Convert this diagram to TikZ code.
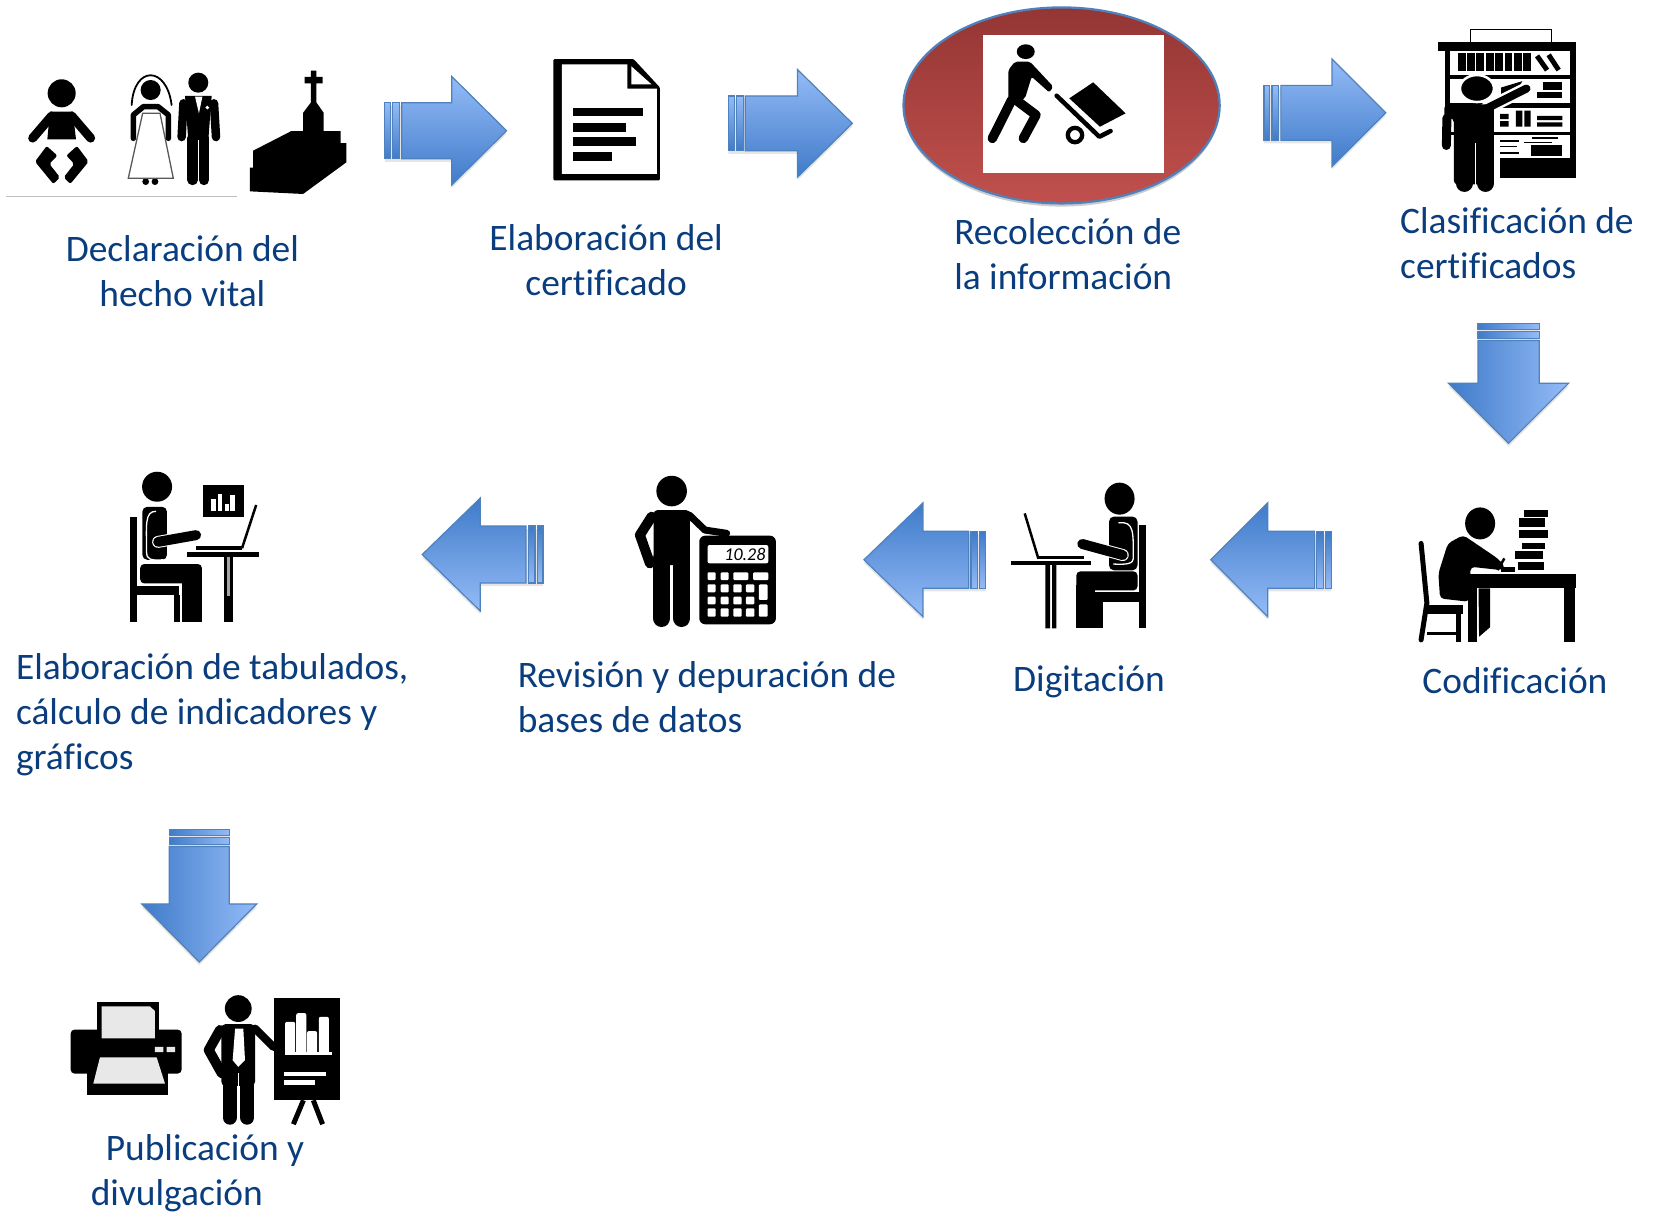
\documentclass[tikz,border=0pt]{standalone}
\usepackage{fontspec}
\setmainfont[Ligatures=NoCommon]{Carlito}
\definecolor{labelblue}{HTML}{0A3D7E}
\definecolor{arrowlight}{HTML}{94BBF7}
\definecolor{arrowdark}{HTML}{3F7BC9}
\definecolor{arrowline}{HTML}{4F81BD}
\definecolor{redtop}{HTML}{943634}
\definecolor{redbottom}{HTML}{C0504D}
\definecolor{papergray}{HTML}{E8E8E8}
\tikzset{
 step label/.style = {%
  text = labelblue,
  inner sep = 0pt,
  align = left,
  font = \fontsize{37.4}{44.8}\selectfont
 },
 center label/.style = {%
  step label,
  align = center
 },
 block/.style = {%
  fill = black,
  draw = none
 },
 limb/.style = {%
  draw = black,
  line cap = round,
  line join = round
 },
 halo/.style = {%
  draw = white,
  line cap = round,
  line join = round
 },
 arrow part/.style = {%
  draw = arrowline,
  line width = 1.2pt,
  top color = arrowlight,
  bottom color = arrowdark,
  shading angle = #1
 }
}
\begin{document}
\begin{tikzpicture}[x=1.0542pt,y=-1.0542pt]
      \useasboundingbox[fill=white] (0,0) rectangle (1568,1155);

      \foreach \tx/\ty/\ang/\len/\hlen/\hw/\sw in {365/124/0/115.5/52/51.5/26.5,691/117/0/117.5/52/51/26,1199/107/0/115.5/51/51/26,1431/307/-90/113.5/57/57/29,1263/531/180/114.5/54/54/27,935/531/180/115.5/56/54/27,515/526/180/114.5/55/53.5/27,189/787/-90/125.5/55/54.5/28.5}{
        \begin{scope}[shift={(\tx,\ty+3)},rotate=\ang]
          \fill[black,opacity=.1] (0,-\sw) -- (\len-\hlen,-\sw) -- (\len-\hlen,-\hw) -- (\len,0) -- (\len-\hlen,\hw) -- (\len-\hlen,\sw) -- (0,\sw) -- cycle;
        \end{scope}
        \begin{scope}[shift={(\tx,\ty)},rotate=\ang]
          \shadedraw[arrow part=\ang] (16,-\sw) -- (\len-\hlen,-\sw) -- (\len-\hlen,-\hw) -- (\len,0) -- (\len-\hlen,\hw) -- (\len-\hlen,\sw) -- (16,\sw) -- cycle;
          \shadedraw[arrow part=\ang] (0,-\sw) rectangle (5.5,\sw);
          \shadedraw[arrow part=\ang] (7.5,-\sw) rectangle (14,\sw);
        \end{scope}
      }

      \draw[gray!50,line width=1pt] (6,186) -- (225,186);
      \fill[block] (58.5,88.5) circle (13.3);
      \fill[block] (47.4,105.9) -- (69,105.9) -- (72.1,132.2) -- (44.9,132.2) -- cycle;
      \draw[limb,line width=9pt] (49,110) -- (31,131) (68,110) -- (86,131);
      \fill[block,rounded corners=2pt] (44.3,138.5) -- (54.4,147.6) -- (46.8,155.5) -- (56.9,168.2) -- (50.6,174.5) -- (33.2,153.3) -- cycle;
      \fill[block,rounded corners=2pt] (73,138.5) -- (62.9,147.6) -- (70.5,155.5) -- (60.4,168.2) -- (66.7,174.5) -- (84.1,153.3) -- cycle;

      \draw[limb,line width=1.8pt] (124.9,99.6) .. controls (127,62) and (158,62) .. (162.8,99.6);
      \fill[block] (142.9,85.4) circle (9.5);
      \fill[block] (138.2,172.3) circle (3.2) (147,172.3) circle (3.2);
      \draw[gray!70!black,fill=white,line width=1.3pt] (135.3,107.5) -- (121.7,169.1) -- (164.4,169.1) -- (151.8,107.5) -- cycle;
      \draw[limb,line width=5.5pt] (126.5,131.2) -- (126.5,109) -- (136,101.2) -- (150,101.2) -- (159.7,109) -- (159.7,131.2);

      \fill[block] (188.1,78.4) circle (9.5);
      \fill[block] (175.5,91) -- (200.8,91) -- (197.6,132.8) -- (178.6,132.8) -- cycle;
      \draw[limb,line width=8.5pt] (174,98) -- (172.3,130) (203,98) -- (204.9,130);
      \draw[limb,line width=10.5pt] (182.7,131) -- (182.7,170.7) (193.5,131) -- (193.5,170.7);
      \fill[white] (185,91.7) -- (192,91.7) -- (188.7,107.5) -- cycle;
      \fill[white] (196.7,102) circle (1.8);

      \fill[block] (237,181.5) -- (237,159) -- (240,159) -- (240,143) -- (276,124.5) -- (287.5,124.5) -- (287.5,107) -- (295,97) -- (295,79) -- (289,79) -- (289,73) -- (295,73) -- (295,67) -- (300,67) -- (300,73) -- (306,73) -- (306,79) -- (300,79) -- (300,97) -- (307,107) -- (307,124.5) -- (323,124.5) -- (323,135.7) -- (328.5,135.7) -- (328.5,154) -- (287.5,184) -- cycle;

      \fill[block,rounded corners=1pt] (525,56) -- (601,56) -- (626,83) -- (626,171) -- (525,171) -- cycle;
      \fill[white] (533,61) -- (595,61) -- (595,84) -- (623,84) -- (623,165) -- (533,165) -- cycle;
      \fill[white] (599,63) -- (618,80) -- (599,80) -- cycle;
      \foreach \barend/\bartop in {609.5/102,593.4/116.5,603/130,580.4/144.6}{
        \fill[block] (544,\bartop) rectangle (\barend,\bartop+8.5);
      }

      \fill[black,opacity=.2] (1007,103) circle [x radius=158.1pt,y radius=98pt];
      \shadedraw[draw=arrowline,line width=2.2pt,top color=redtop,bottom color=redbottom] (1007,100) circle [x radius=158.1pt,y radius=98pt];
      \fill[white] (932,33) rectangle (1104,164);
      \fill[block] (973,49) circle [x radius=9pt,y radius=7.4pt];
      \fill[block,rounded corners=2pt] (956.5,66.4) -- (962.8,58.5) -- (977,58.5) -- (999.1,82.2) -- (995.3,87.6) -- (978.6,72.8) -- (972.3,93.3) -- (956.5,101) -- cycle;
      \draw[limb,line width=9.5pt] (959.6,94.9) -- (941.3,131.3) (965.9,96.5) -- (982.7,109.1) -- (970.7,131.3);
      \draw[limb,line width=4.5pt] (1002.3,90.8) -- (1042.8,129.7) -- (1053.5,124.3);
      \draw[black,line width=4.3pt] (1019.7,128.1) circle (6.8);
      \fill[block] (1037,78.1) -- (1067.7,107.5) -- (1043.4,120.2) -- (1014.3,93.3) -- cycle;

      \draw[black,fill=white,line width=1.3pt] (1394.7,28) rectangle (1471.6,42.7);
      \fill[block] (1364,39.6) rectangle (1495,48);
      \fill[block] (1370.4,48) rectangle (1375,102);
      \fill[block] (1489.6,48) rectangle (1495,169);
      \fill[block] (1423,150) rectangle (1495,169);
      \foreach \shelf/\shelfb in {71/75,98/102,125/128}{
        \fill[block] (1375,\shelf) rectangle (1490,\shelfb);
      }
      \foreach \book in {0,...,7}{
        \fill[block] (1382.7+\book*8.9,50.6) rectangle (1390.2+\book*8.9,67);
      }
      \draw[black,line width=5pt] (1458,53) -- (1467.5,66.5) (1469,52) -- (1478.5,66.5);
      \fill[block] (1464,77.5) rectangle (1482,85.4);
      \fill[block] (1458,87) rectangle (1482,93);
      \fill[block] (1424,83) -- (1444,77) -- (1436,92) -- (1424,92) -- cycle;
      \fill[block] (1423,108) rectangle (1431,113) (1423,115) rectangle (1431,120);
      \fill[block] (1438,105) rectangle (1444,120) (1446,105) rectangle (1452,120);
      \fill[block] (1458,110) rectangle (1482,114) (1458,116) rectangle (1482,120);
      \foreach \thin/\thinend in {134/1441,139/1439,145/1441}{
        \draw[black,line width=1.6pt] (1423,\thin) -- (\thinend,\thin);
      }
      \draw[black,line width=1.6pt] (1453,131) -- (1478,131) (1446,135) -- (1472,135);
      \fill[block] (1452,138) rectangle (1482,148);
      \draw[halo,line width=13pt] (1410,103) -- (1448,84);
      \draw[white,fill=black,line width=2.5pt] (1401,84) circle [x radius=17pt,y radius=13.5pt];
      \draw[limb,line width=8pt] (1410,103) -- (1448,84);
      \fill[block,rounded corners=4pt] (1370,99) -- (1417,99) -- (1417,175) -- (1379,175) -- (1379,112) -- (1370,112) -- cycle;
      \draw[limb,line width=9pt] (1372.5,112) -- (1372,138);
      \draw[limb,line width=17pt] (1389,170) -- (1389,174) (1409,170) -- (1409,174);
      \draw[white,line width=1.6pt] (1399.5,136) -- (1399.5,183);

      \fill[block] (1404,496.5) circle [x radius=15pt,y radius=16pt];
      \fill[block,rounded corners=4pt] (1364.4,544) -- (1373.4,515.5) -- (1388,507.6) -- (1420.6,529.7) -- (1428,537.6) -- (1424,540.8) -- (1395,537.6) -- (1393.4,570.8) -- (1366,567.7) -- cycle;
      \draw[limb,line width=5pt] (1348,515.5) -- (1353.5,572) -- (1348,607);
      \fill[block] (1351.6,574) rectangle (1388,582.5);
      \fill[block] (1353.5,599.3) rectangle (1384.4,602.5);
      \fill[block] (1381,582) rectangle (1386,609);
      \fill[block] (1389.8,544.6) rectangle (1495,558);
      \fill[block] (1392.3,558) rectangle (1400.7,609);
      \fill[block] (1484,558) rectangle (1494.4,609);
      \fill[block] (1402.5,558) -- (1413.4,558) -- (1413.4,595) -- (1403,604) -- cycle;
      \foreach \bx/\bxe/\by/\bye in {1446/1468/484/490,1440.6/1466/491.8/499.7,1440.6/1468/502.8/510,1444/1466/514.8/521,1437/1464/522.7/530.7,1440/1465/533.5/540.8}{
        \fill[block] (\bx,\by) rectangle (\bxe,\bye);
      }
      \draw[black,line width=2.5pt] (1420.6,540.8) -- (1427,529.7);
      \fill[block] (1424,538) rectangle (1437,543);

      \fill[block] (1062,473) circle [x radius=15pt,y radius=16pt];
      \fill[block,rounded corners=5pt] (1052,490) rectangle (1079,541);
      \draw[white,line width=1.3pt] (1061,496) .. controls (1076,494) and (1075,505) .. (1075,530) .. controls (1075,534) and (1070,536) .. (1056,535);
      \fill[block] (1080,498) rectangle (1086.6,596);
      \fill[block,rounded corners=4pt] (1021,560) -- (1021,542) -- (1079,542) -- (1079,560) -- cycle;
      \fill[block] (1021,555) rectangle (1038.6,596);
      \fill[block] (1039,561.5) rectangle (1087,571);
      \fill[block] (1039,571) rectangle (1046.6,596);
      \draw[halo,line width=12pt] (1026.6,516) -- (1065,526.5);
      \draw[limb,line width=10pt] (1026.6,516) -- (1065,526.5);
      \draw[black,line width=2.5pt] (972,487) -- (985,530);
      \draw[black,line width=3.5pt] (985,529) -- (1028.5,529);
      \fill[block] (959,532) rectangle (1034.6,536);
      \fill[block] (991.5,536) rectangle (996,596) (998,536) rectangle (1002,596);

      \fill[block] (637.1,465.8) circle (14.5);
      \fill[block,rounded corners=4pt] (620,483.8) rectangle (654.5,536);
      \draw[limb,line width=10pt] (618.1,490.1) -- (607,507.5) -- (616.5,534.4);
      \draw[limb,line width=7pt] (653.8,488.5) -- (668.7,502.8) -- (689.3,505.9);
      \draw[limb,line width=17.5pt] (627.6,530) -- (627.6,586.5) (646.6,530) -- (646.6,586.5);
      \fill[block,rounded corners=6pt] (663.3,508.1) rectangle (736,592.2);
      \fill[white,rounded corners=2pt] (671.2,517) rectangle (728.8,534.4);
      \node[text=black,inner sep=0pt,font=\fontsize{18}{18}\selectfont\itshape] (display) at (706.6,525.8) {10.28};
      \foreach \keyy/\keyye in {554.3/561.9,566/573.3,577/585}{
        \foreach \keyx/\keyxe in {671.2/678.8,683.6/691.2,695.6/703.5,707.6/715.5}{
          \fill[white,rounded corners=1pt] (\keyx,\keyy) rectangle (\keyxe,\keyye);
        }
      }
      \foreach \keyx/\keyxe/\keyy/\keyye in {671.2/678.8/542.9/550.2,683.6/691.2/542.9/550.2,695.6/709.8/542.9/550.2,714.5/728.8/542.9/550.2,719.9/728.1/554.3/569.1,719.9/728.1/573.3/585}{
        \fill[white,rounded corners=1pt] (\keyx,\keyy) rectangle (\keyxe,\keyye);
      }

      \fill[block] (149,461.7) circle [x radius=15pt,y radius=15pt];
      \fill[block,rounded corners=5pt] (135,480.7) rectangle (158.4,531);
      \draw[white,line width=1.3pt] (148,485) .. controls (137,485) and (139,498) .. (139,524) .. controls (139,530) and (142,532) .. (155,531);
      \fill[block] (123.7,490) rectangle (129.6,590);
      \fill[block,rounded corners=4pt] (133,553.4) -- (133,535) -- (191.5,535) -- (191.5,553.4) -- cycle;
      \fill[block] (173,548) rectangle (191.5,590);
      \fill[block] (123.7,556) rectangle (170,564.5);
      \fill[block] (165,564) rectangle (171,590);
      \draw[halo,line width=12pt] (150,514) -- (186,507.6);
      \draw[limb,line width=10pt] (150,514) -- (186,507.6);
      \draw[black,line width=2.5pt] (243,479) -- (229.6,520);
      \draw[black,line width=3.5pt] (186,520) -- (230,520);
      \fill[block] (177.5,523.4) rectangle (245.3,528);
      \fill[block] (212.6,528) rectangle (221,590);
      \fill[gray!70] (215.5,528) rectangle (218,565);
      \fill[block] (193,460) rectangle (231,490);
      \foreach \bx/\bt in {200/473,206.5/469,213/478,218.5/470}{
        \fill[white] (\bx,\bt) rectangle (\bx+4.5,485);
      }

      \fill[block,rounded corners=4pt] (67,976.6) rectangle (172.3,1018.4);
      \fill[block] (92.3,950.4) rectangle (151,977);
      \fill[papergray] (96.4,954.5) -- (142,954.5) -- (147,959) -- (147,985) -- (96.4,985) -- cycle;
      \fill[block] (82.8,1002.5) rectangle (159.7,1039);
      \fill[papergray] (94.8,1003) -- (148.6,1003) -- (156.5,1027.8) -- (88.5,1027.8) -- cycle;
      \fill[papergray] (147,993) rectangle (155,998) (158,993) rectangle (166,998);

      \fill[block] (226,956.7) circle (12.7);
      \fill[block,rounded corners=4pt] (210,971.5) rectangle (241.9,1030);
      \draw[limb,line width=10pt] (208.7,977) -- (198,996) -- (210.3,1018);
      \draw[limb,line width=8pt] (242,975.7) -- (259.3,993) -- (270.4,993);
      \draw[limb,line width=14.5pt] (218,1025) -- (218,1060) (234.5,1025) -- (234.5,1060);
      \draw[white,line width=1.2pt] (226.2,1018) -- (226.2,1066);
      \fill[white] (223,975.7) -- (230.8,975.7) -- (232.4,1005.7) -- (226,1012) -- (220.7,1005.7) -- cycle;
      \fill[block] (260.2,947) rectangle (322.5,1043.7);
      \foreach \bx/\bt in {270.4/969.3,281/961,291.2/978,302.4/964.5}{
        \fill[white,rounded corners=2pt] (\bx,\bt) rectangle (\bx+9.6,1000);
      }
      \fill[white] (270,998) rectangle (314.6,1001);
      \fill[white] (269.7,1016.8) rectangle (309.3,1021);
      \fill[white] (269.7,1024.7) rectangle (298.8,1029);
      \draw[black,line width=5pt] (287.8,1043.7) -- (278.3,1066.4) (297.2,1043.7) -- (306,1066.4);

      \node[center label] (declaracion) at (173,257) {Declaración del\\hecho vital};
      \node[center label] (elaboracion) at (575,247) {Elaboración del\\certificado};
      \node[step label,anchor=west] (recoleccion) at (905,241) {Recolección de\\la información};
      \node[step label,anchor=west] (clasificacion) at (1328,231) {Clasificación de\\certificados};
      \node[center label] (codificacion) at (1437,646) {Codificación};
      \node[center label] (digitacion) at (1033,647) {Digitación};
      \node[step label,anchor=west] (revision) at (491,661) {Revisión y depuración de\\bases de datos};
      \node[step label,anchor=west] (tabulados) at (15,678) {Elaboración de tabulados,\\cálculo de indicadores y\\gráficos};
      \node[step label,anchor=west] (publicacion) at (86,1113) {\hspace*{15pt}Publicación y\\divulgación};
     \end{tikzpicture}
\end{document}
